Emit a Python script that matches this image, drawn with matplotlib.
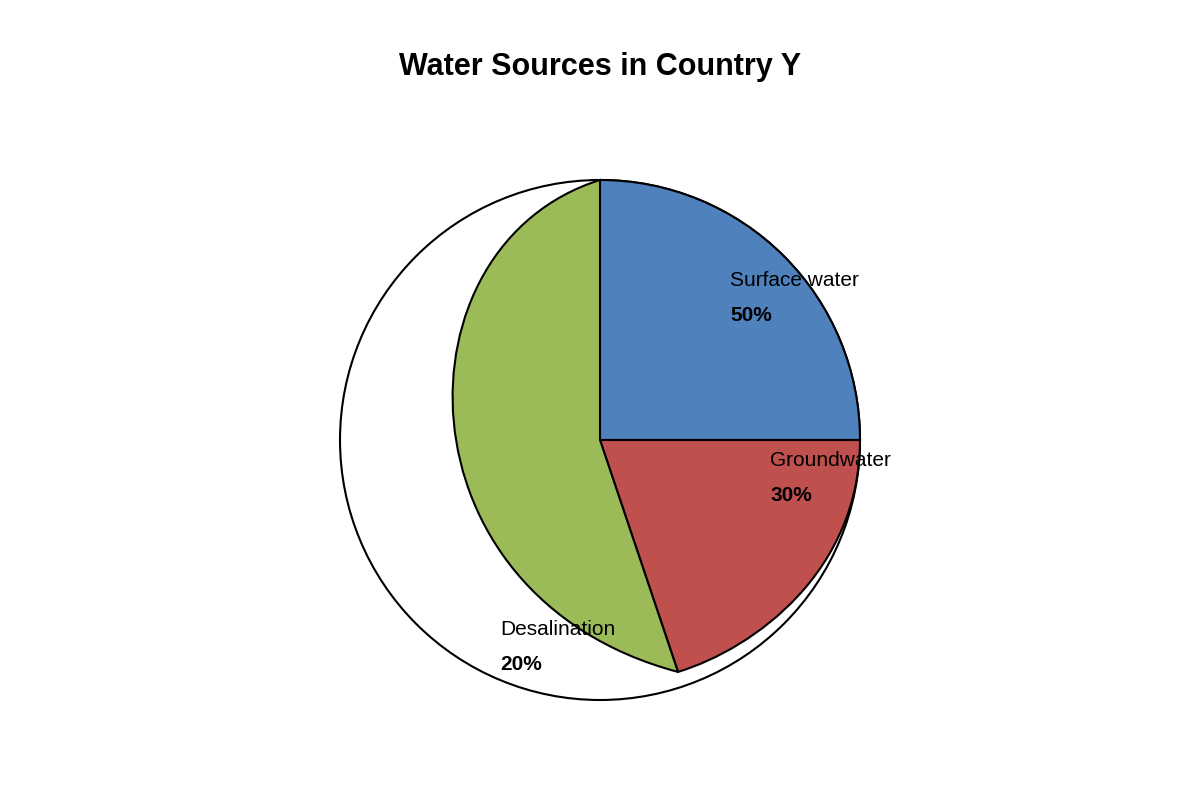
import matplotlib
matplotlib.use("Agg")
import matplotlib.pyplot as plt
from matplotlib.path import Path
from matplotlib.patches import PathPatch, Circle, Wedge

categories = ["Surface water", "Groundwater", "Desalination"]
values = [50, 30, 20]
colors = ["#4f81bd", "#c0504d", "#9bbb59"]

plt.rcParams['font.family'] = ['Liberation Sans', 'DejaVu Sans']
fig = plt.figure(figsize=(12, 8), dpi=100)
ax = fig.add_axes([0, 0, 1, 1])
ax.set_xlim(-600/260, 600/260)
ax.set_ylim(-360/260, 440/260)
ax.set_aspect('equal')
ax.axis('off')

ax.add_patch(Circle((0, 0), 1, facecolor='white', edgecolor='black', lw=1.5))
ax.add_patch(Wedge((0, 0), 1, 0, 90, facecolor=colors[0], edgecolor='black', lw=1.5))
red = Path([(0, 0), (1, 0), (1, -0.5), (0.6, -0.8), (0.3, -0.892), (0, 0)],
           [Path.MOVETO, Path.LINETO, Path.CURVE4, Path.CURVE4, Path.CURVE4, Path.CLOSEPOLY])
ax.add_patch(PathPatch(red, facecolor=colors[1], edgecolor='black', lw=1.5))
green = Path([(0, 0), (0.3, -0.892), (-0.8, -0.6), (-0.8, 0.75), (0, 1), (0, 0)],
             [Path.MOVETO, Path.LINETO, Path.CURVE4, Path.CURVE4, Path.CURVE4, Path.CLOSEPOLY])
ax.add_patch(PathPatch(green, facecolor=colors[2], edgecolor='black', lw=1.5))

label_pos = [(0.5, 0.615), (0.654, -0.077), (-0.385, -0.73)]
for (x, y), c, v in zip(label_pos, categories, values):
    ax.text(x, y, c, fontsize=15, ha='left', va='center')
    ax.text(x, y - 0.135, f"{v}%", fontsize=15, fontweight='bold', ha='left', va='center')

fig.text(0.5, 1 - 67/800, "Water Sources in Country Y", fontsize=22, fontweight='bold',
         ha='center', va='center')
fig.savefig("out.png", dpi=100)
